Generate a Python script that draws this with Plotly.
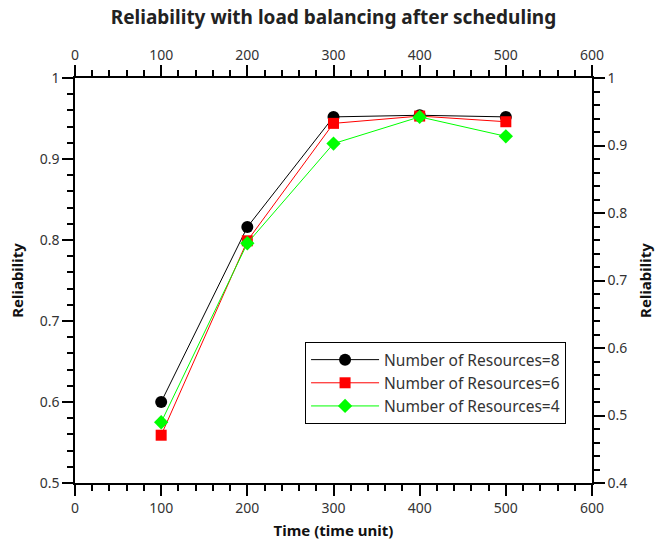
import plotly.graph_objects as go

time = [100, 200, 300, 400, 500]
r8 = [0.600, 0.816, 0.952, 0.954, 0.952]
r6 = [0.559, 0.799, 0.944, 0.953, 0.946]
r4 = [0.575, 0.796, 0.919, 0.952, 0.928]
names = ["Number of Resources=8", "Number of Resources=6", "Number of Resources=4"]

fig = go.Figure()
fig.add_trace(go.Scatter(x=time, y=r8, name=names[0], mode="lines+markers",
                         line=dict(color="black", width=1),
                         marker=dict(symbol="circle", size=12, color="black")))
fig.add_trace(go.Scatter(x=time, y=r6, name=names[1], mode="lines+markers",
                         line=dict(color="red", width=1),
                         marker=dict(symbol="square", size=11, color="red")))
fig.add_trace(go.Scatter(x=time, y=r4, name=names[2], mode="lines+markers",
                         line=dict(color="#00ff00", width=1),
                         marker=dict(symbol="diamond", size=11, color="#00ff00")))
# invisible trace to anchor secondary axes
fig.add_trace(go.Scatter(x=[0], y=[0.4], xaxis="x2", yaxis="y2", mode="markers",
                         marker=dict(opacity=0), showlegend=False, hoverinfo="skip"))

font = dict(family="Noto Sans, Open Sans, sans-serif", size=14, color="#333")
axcommon = dict(showgrid=False, zeroline=False, showline=True, linecolor="black",
                linewidth=1.5, ticks="outside", ticklen=11, tickwidth=1.5, tickcolor="black",
                tickfont=dict(family="Noto Sans, sans-serif", size=14, color="#333"))

fig.update_layout(
    width=667, height=550,
    margin=dict(l=75, r=75, t=78, b=67),
    plot_bgcolor="white", paper_bgcolor="white",
    font=font,
    title=dict(text="<b>Reliability with load balancing after scheduling</b>",
               x=0.5, xanchor="center", y=0.968, yanchor="middle",
               font=dict(family="Noto Sans, sans-serif", size=19, color="#222")),
    xaxis=dict(range=[0, 600], dtick=100, tick0=0,
               minor=dict(ticks="outside", ticklen=6, dtick=20, tickwidth=1.5, tickcolor="black"),
               title=dict(text="<b>Time (time unit)</b>", font=dict(size=15, color="#111"), standoff=10),
               **axcommon),
    xaxis2=dict(range=[0, 600], dtick=100, tick0=0, overlaying="x", side="top", anchor="y",
                minor=dict(ticks="outside", ticklen=6, dtick=20, tickwidth=1.5, tickcolor="black"),
                **axcommon),
    yaxis=dict(range=[0.5, 1.0], dtick=0.1, tick0=0.5,
               minor=dict(ticks="outside", ticklen=6, dtick=0.02, tickwidth=1.5, tickcolor="black"),
               title=dict(text="<b>Reliability</b>", font=dict(size=15, color="#111"), standoff=12),
               **axcommon),
    yaxis2=dict(range=[0.4, 1.0], dtick=0.1, tick0=0.4, overlaying="y", side="right", anchor="x",
                minor=dict(ticks="outside", ticklen=6, dtick=0.02, tickwidth=1.5, tickcolor="black"),
                title=dict(text="<b>Reliability</b>", font=dict(size=15, color="#111"), standoff=14),
                **axcommon),
    legend=dict(x=0.445, y=0.348, xanchor="left", yanchor="top",
                bordercolor="black", borderwidth=1, bgcolor="white",
                font=dict(family="Noto Sans, sans-serif", size=15.5, color="#333"),
                itemwidth=68, tracegroupgap=0),
    showlegend=True,
)

fig.write_html("out.html")
